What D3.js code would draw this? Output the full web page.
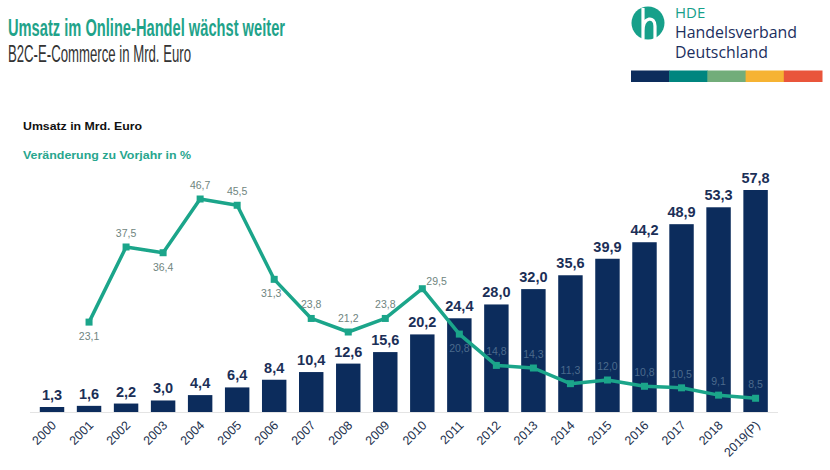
<!DOCTYPE html>
<html>
<head>
<meta charset="utf-8">
<script src="https://cdn.jsdelivr.net/npm/d3@7"></script>
<style>
  body { margin: 0; background: #fff; }
  svg { display: block; }
</style>
</head>
<body>
<div id="chart"></div>
<script>
"use strict"

// data
var years = ["2000","2001","2002","2003","2004","2005","2006","2007","2008","2009",
  "2010","2011","2012","2013","2014","2015","2016","2017","2018","2019(P)"];
var umsatz = [1.3,1.6,2.2,3.0,4.4,6.4,8.4,10.4,12.6,15.6,20.2,24.4,28.0,32.0,35.6,39.9,44.2,48.9,53.3,57.8];
var veraenderung = [null,23.1,37.5,36.4,46.7,45.5,31.3,23.8,21.2,23.8,29.5,20.8,14.8,14.3,11.3,12.0,10.8,10.5,9.1,8.5];
var logoColors = ["#0c2c5c","#00857f","#72ad7a","#f6b333","#e9553b"];

var width = 830, height = 470;
var navy = "#0c2c5c", teal = "#1ba58a";
var fmt = function(v){ return d3.format(".1f")(v).replace(".", ","); };

var svg = d3.select("#chart").append("svg")
  .attr("width", width)
  .attr("height", height);

// titles
svg.append("text")
  .attr("x", 8).attr("y", 36)
  .attr("textLength", 277).attr("lengthAdjust", "spacingAndGlyphs")
  .style("font-family", "'Liberation Sans Narrow', 'Liberation Sans', Arial, sans-serif")
  .style("font-size", "23px").style("font-weight", "bold")
  .style("fill", "#1fa38a")
  .text("Umsatz im Online-Handel wächst weiter");

svg.append("text")
  .attr("x", 8).attr("y", 61.5)
  .attr("textLength", 183).attr("lengthAdjust", "spacingAndGlyphs")
  .style("font-family", "'Liberation Sans Narrow', 'Liberation Sans', Arial, sans-serif")
  .style("font-size", "24px")
  .style("fill", "#333")
  .text("B2C-E-Commerce in Mrd. Euro");

// logo
var logo = svg.append("g");
logo.append("circle")
  .attr("cx", 648).attr("cy", 23).attr("r", 16.5)
  .style("fill", "#16a08a");
logo.append("path")
  .attr("d", "M643,8 L643,39 M643,31 C643,16 655,16 655,26 L655,39")
  .style("fill", "none").style("stroke", "#fff").style("stroke-width", 3.2);

var logoFont = "'Open Sans', 'Noto Sans', sans-serif";
logo.append("text").attr("x", 675).attr("y", 18)
  .style("font-family", logoFont).style("font-size", "15px").style("font-weight", 500).style("fill", "#16a08a")
  .text("HDE");
logo.append("text").attr("x", 675).attr("y", 38)
  .attr("textLength", 122).attr("lengthAdjust", "spacingAndGlyphs")
  .style("font-family", logoFont).style("font-size", "15.5px").style("font-weight", 500).style("fill", "#1c2f5e")
  .text("Handelsverband");
logo.append("text").attr("x", 675).attr("y", 58)
  .attr("textLength", 93).attr("lengthAdjust", "spacingAndGlyphs")
  .style("font-family", logoFont).style("font-size", "15.5px").style("font-weight", 500).style("fill", "#1c2f5e")
  .text("Deutschland");

var stripe = d3.scaleBand().domain(d3.range(logoColors.length)).range([631, 822]);
logo.selectAll("rect.stripe")
  .data(logoColors)
  .enter().append("rect")
  .attr("class", "stripe")
  .attr("x", function(d, i){ return stripe(i); })
  .attr("y", 70.5)
  .attr("width", stripe.bandwidth() + 0.5)
  .attr("height", 11.5)
  .style("fill", function(d){ return d; });

// legend labels
svg.append("text")
  .attr("x", 23).attr("y", 130)
  .attr("textLength", 119).attr("lengthAdjust", "spacingAndGlyphs")
  .style("font-family", "'Liberation Sans', Arial, sans-serif")
  .style("font-size", "11.5px").style("font-weight", "bold").style("fill", "#111")
  .text("Umsatz in Mrd. Euro");

svg.append("text")
  .attr("x", 23).attr("y", 158.5)
  .attr("textLength", 168).attr("lengthAdjust", "spacingAndGlyphs")
  .style("font-family", "'Liberation Sans', Arial, sans-serif")
  .style("font-size", "11.5px").style("font-weight", "bold").style("fill", "#28a68e")
  .text("Veränderung zu Vorjahr in %");

// scales
var x = d3.scaleBand()
  .domain(years)
  .range([33.5, 774.1])
  .paddingInner(0.34)
  .paddingOuter(0.17);

var yBar = d3.scaleLinear().domain([0, 57.8]).range([412, 190]);
var yPct = d3.scaleLinear().domain([0, 46.7]).range([442.6, 199]);

// baseline
svg.append("line")
  .attr("x1", 30).attr("x2", 778)
  .attr("y1", yBar(0) + 0.5).attr("y2", yBar(0) + 0.5)
  .style("stroke", "#e4e4e4").style("stroke-width", 1);

// bars
svg.selectAll("rect.bar")
  .data(umsatz)
  .enter().append("rect")
  .attr("class", "bar")
  .attr("x", function(d, i){ return x(years[i]); })
  .attr("y", function(d){ return yBar(d); })
  .attr("width", x.bandwidth())
  .attr("height", function(d){ return yBar(0) - yBar(d); })
  .style("fill", navy);

svg.selectAll("text.barlabel")
  .data(umsatz)
  .enter().append("text")
  .attr("class", "barlabel")
  .attr("x", function(d, i){ return x(years[i]) + x.bandwidth() / 2; })
  .attr("y", function(d){ return yBar(d) - 7; })
  .attr("text-anchor", "middle")
  .style("font-family", "'Liberation Sans', Arial, sans-serif")
  .style("font-size", "14.5px").style("font-weight", "bold")
  .style("fill", "#1b2f57")
  .text(fmt);

// x axis labels
var xAxis = d3.axisBottom(x).tickSize(0).tickPadding(0);
var gx = svg.append("g")
  .attr("transform", "translate(0," + yBar(0) + ")")
  .call(xAxis);
gx.select(".domain").remove();
gx.selectAll(".tick text")
  .attr("transform", "translate(5,14) rotate(-45)")
  .attr("text-anchor", "end")
  .attr("dy", 0)
  .attr("y", 0)
  .style("font-family", "'Liberation Sans', Arial, sans-serif")
  .style("font-size", "12.5px")
  .style("fill", "#22304d");

// line
var pts = veraenderung
  .map(function(v, i){ return { year: years[i], v: v, bar: umsatz[i] }; })
  .filter(function(d){ return d.v !== null; });

var cx = function(d){ return x(d.year) + x.bandwidth() / 2; };

var line = d3.line()
  .x(cx)
  .y(function(d){ return yPct(d.v); });

svg.append("path")
  .datum(pts)
  .attr("d", line)
  .style("fill", "none")
  .style("stroke", teal)
  .style("stroke-width", 3.5)
  .style("stroke-linejoin", "round");

svg.selectAll("rect.marker")
  .data(pts)
  .enter().append("rect")
  .attr("class", "marker")
  .attr("x", function(d){ return cx(d) - 3.5; })
  .attr("y", function(d){ return yPct(d.v) - 3.5; })
  .attr("width", 7).attr("height", 7)
  .style("fill", teal);

// label placement for the percent values
var below = ["2001", "2003", "2006", "2011"];
var rightSide = ["2010"];

svg.selectAll("text.pctlabel")
  .data(pts)
  .enter().append("text")
  .attr("class", "pctlabel")
  .attr("x", function(d){
    if (rightSide.indexOf(d.year) >= 0) return cx(d) + 4;
    if (d.year === "2006") return cx(d) - 3;
    return cx(d);
  })
  .attr("y", function(d){
    var py = yPct(d.v);
    if (rightSide.indexOf(d.year) >= 0) return py - 4;
    if (below.indexOf(d.year) >= 0) return py + 18;
    return py - 10;
  })
  .attr("text-anchor", function(d){ return rightSide.indexOf(d.year) >= 0 ? "start" : "middle"; })
  .style("font-family", "'Liberation Sans', Arial, sans-serif")
  .style("font-size", "10.5px")
  .style("fill", function(d){
    var py = yPct(d.v) + (below.indexOf(d.year) >= 0 ? 14 : -14);
    return (py > yBar(d.bar) && rightSide.indexOf(d.year) < 0) ? "#4b6a8c" : "#6f8580";
  })
  .text(function(d){ return fmt(d.v); });
</script>
</body>
</html>
